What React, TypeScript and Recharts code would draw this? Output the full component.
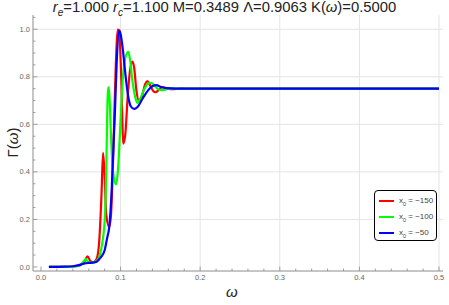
import { Line, LineChart, ReferenceLine, XAxis, YAxis } from "recharts";

// (omega, Gamma) samples
const curveM150: [number, number][] = [
  [0.01, 0], [0.03, 0], [0.045, 0.003], [0.05, 0.008], [0.055, 0.025],
  [0.0585, 0.045], [0.062, 0.025], [0.066, 0.02], [0.07, 0.035], [0.073, 0.1],
  [0.076, 0.3], [0.078, 0.48], [0.08, 0.38], [0.082, 0.22], [0.0857, 0.168],
  [0.088, 0.22], [0.091, 0.5], [0.094, 0.85], [0.0967, 1.0], [0.099, 0.95],
  [0.101, 0.78], [0.1034, 0.519], [0.106, 0.56], [0.109, 0.72], [0.112, 0.83],
  [0.115, 0.864], [0.117, 0.84], [0.12, 0.74], [0.123, 0.7], [0.127, 0.72],
  [0.131, 0.77], [0.1336, 0.782], [0.137, 0.765], [0.141, 0.74], [0.144, 0.735],
  [0.148, 0.745], [0.153, 0.757], [0.158, 0.752], [0.165, 0.748], [0.175, 0.751],
  [0.19, 0.75], [0.5, 0.75],
];

const curveM100: [number, number][] = [
  [0.01, 0], [0.035, 0], [0.045, 0.004], [0.05, 0.01], [0.054, 0.025],
  [0.0565, 0.033], [0.059, 0.022], [0.064, 0.018], [0.07, 0.025], [0.074, 0.05],
  [0.077, 0.1], [0.0805, 0.22], [0.0825, 0.5], [0.0838, 0.72], [0.0848, 0.757],
  [0.086, 0.72], [0.088, 0.55], [0.09, 0.42], [0.0942, 0.347], [0.097, 0.42],
  [0.1, 0.62], [0.103, 0.8], [0.106, 0.88], [0.1097, 0.905], [0.112, 0.87],
  [0.115, 0.78], [0.118, 0.72], [0.121, 0.69], [0.125, 0.71], [0.13, 0.75],
  [0.134, 0.77], [0.138, 0.775], [0.142, 0.765], [0.147, 0.748], [0.152, 0.744],
  [0.158, 0.748], [0.165, 0.751], [0.175, 0.75], [0.5, 0.75],
];

const curveM50: [number, number][] = [
  [0.01, 0], [0.03, 0.001], [0.04, 0.003], [0.05, 0.01], [0.055, 0.015],
  [0.06, 0.017], [0.065, 0.018], [0.07, 0.022], [0.075, 0.04], [0.08, 0.07],
  [0.083, 0.12], [0.086, 0.175], [0.0888, 0.32], [0.091, 0.5], [0.093, 0.66],
  [0.095, 0.85], [0.0984, 0.995], [0.1, 0.98], [0.103, 0.91], [0.1055, 0.828],
  [0.1097, 0.715], [0.113, 0.675], [0.117, 0.665], [0.121, 0.672], [0.128, 0.71],
  [0.135, 0.745], [0.14, 0.76], [0.145, 0.765], [0.15, 0.758], [0.158, 0.752],
  [0.17, 0.75], [0.5, 0.75],
];

const seriesNames = ["\u2212150", "\u2212100", "\u221250"];
const seriesColors = ["#ff0000", "#00ff00", "#0000ff"];

const xTicks = [
  0, 0.02, 0.04, 0.06, 0.08, 0.1, 0.12, 0.14, 0.16, 0.18, 0.2, 0.22, 0.24, 0.26,
  0.28, 0.3, 0.32, 0.34, 0.36, 0.38, 0.4, 0.42, 0.44, 0.46, 0.48, 0.5,
];
const yTicks = [
  0, 0.05, 0.1, 0.15, 0.2, 0.25, 0.3, 0.35, 0.4, 0.45, 0.5, 0.55, 0.6, 0.65,
  0.7, 0.75, 0.8, 0.85, 0.9, 0.95, 1.0, 1.05,
];
const xGrid = [0.1, 0.2, 0.3, 0.4, 0.5];
const yGrid = [0.2, 0.4, 0.6, 0.8, 1.0];

const toRows = (pts: [number, number][]) => pts.map(([w, g]) => ({ w, g }));
const curves = [curveM150, curveM100, curveM50].map(toRows);

const FRAME = "#8c8c8c";
const TICKTXT = "#666";
const FONT = "'Liberation Sans', Arial, sans-serif";

const isMajor = (v: number, step: number) =>
  Math.abs(v / step - Math.round(v / step)) < 1e-6;

function FrameTick(props: any) {
  const { x, y, payload, side, labels } = props;
  const v = payload.value as number;
  const vertical = side === "bottom" || side === "top";
  const major = isMajor(v, vertical ? 0.1 : 0.2);
  const len = major ? 4.5 : 2.5;
  let line;
  if (side === "bottom") line = <line x1={x} x2={x} y1={y} y2={y - len} />;
  else if (side === "top") line = <line x1={x} x2={x} y1={y} y2={y + len} />;
  else if (side === "left") line = <line x1={x} x2={x + len} y1={y} y2={y} />;
  else line = <line x1={x} x2={x - len} y1={y} y2={y} />;
  return (
    <g>
      <g stroke={FRAME} strokeWidth={0.8}>{line}</g>
      {labels && major && side === "bottom" && (
        <text x={x} y={y + 9} textAnchor="middle" fontSize={7.5} fill={TICKTXT} fontFamily={FONT}>
          {v.toFixed(1)}
        </text>
      )}
      {labels && major && side === "left" && (
        <text x={x - 3} y={y + 2.6} textAnchor="end" fontSize={7.5} fill={TICKTXT} fontFamily={FONT}>
          {v.toFixed(1)}
        </text>
      )}
    </g>
  );
}

function LegendBox() {
  return (
    <div
      style={{
        position: "absolute",
        left: 374,
        top: 190,
        width: 63,
        height: 51,
        border: "1.5px solid #000",
        borderRadius: 4,
        background: "#fff",
        boxSizing: "border-box",
        paddingTop: 2,
        fontFamily: FONT,
        fontSize: 8,
        color: "#444",
      }}
    >
      {seriesNames.map((n, i) => (
        <div key={n} style={{ display: "flex", alignItems: "center", height: 16 }}>
          <div style={{ width: 15, height: 2, background: seriesColors[i], marginLeft: 4, marginRight: 5 }} />
          <span style={{ whiteSpace: "nowrap", lineHeight: "10px" }}>
            x<sub style={{ fontSize: 5.5, lineHeight: 0 }}>0</sub> = {n}
          </span>
        </div>
      ))}
    </div>
  );
}

export default function App() {
  return (
    <div style={{ position: "absolute", left: 0, top: 0, width: 449, height: 305, background: "#fff" }}>
      <LineChart width={449} height={305} margin={{ top: 15, right: 6, bottom: 0, left: 0 }}>
        <XAxis
          xAxisId={0}
          dataKey="w"
          type="number"
          domain={[-0.01, 0.505]}
          allowDataOverflow
          ticks={xTicks}
          interval={0}
          height={34}
          tickSize={0}
          tickMargin={0}
          stroke={FRAME}
          tick={<FrameTick side="bottom" labels />}
          tickLine={false}
        />
        <XAxis
          xAxisId="top"
          orientation="top"
          dataKey="w"
          type="number"
          domain={[-0.01, 0.505]}
          allowDataOverflow
          ticks={xTicks}
          interval={0}
          height={0}
          tickSize={0}
          tickMargin={0}
          stroke={FRAME}
          tick={<FrameTick side="top" />}
          tickLine={false}
        />
        <YAxis
          yAxisId={0}
          dataKey="g"
          type="number"
          domain={[-0.017, 1.06]}
          allowDataOverflow
          ticks={yTicks}
          interval={0}
          width={33}
          tickSize={0}
          tickMargin={0}
          stroke={FRAME}
          tick={<FrameTick side="left" labels />}
          tickLine={false}
        />
        <YAxis
          yAxisId="right"
          orientation="right"
          dataKey="g"
          type="number"
          domain={[-0.017, 1.06]}
          allowDataOverflow
          ticks={yTicks}
          interval={0}
          width={0}
          tickSize={0}
          tickMargin={0}
          stroke={FRAME}
          tick={<FrameTick side="right" />}
          tickLine={false}
        />
        {xGrid.map((v) => (
          <ReferenceLine key={"x" + v} x={v} stroke="#e4e4e4" strokeWidth={1} />
        ))}
        {yGrid.map((v) => (
          <ReferenceLine key={"y" + v} y={v} stroke="#e4e4e4" strokeWidth={1} />
        ))}
        {curves.map((rows, i) => (
          <Line
            key={i}
            data={rows}
            dataKey="g"
            type="monotone"
            stroke={seriesColors[i]}
            strokeWidth={2.2}
            dot={false}
            isAnimationActive={false}
          />
        ))}
      </LineChart>
      <div
        style={{
          position: "absolute",
          top: -1,
          left: 0,
          width: 449,
          textAlign: "center",
          fontFamily: FONT,
          fontSize: 14.8,
          color: "#222",
          whiteSpace: "nowrap",
        }}
      >
        <i>r</i><sub style={{ fontSize: 10, lineHeight: 0 }}><i>e</i></sub>=1.000 <i>r</i>
        <sub style={{ fontSize: 10, lineHeight: 0 }}><i>c</i></sub>=1.100 M=0.3489 Λ=0.9063 K(<i>ω</i>)=0.5000
      </div>
      <div
        style={{
          position: "absolute",
          left: -6,
          top: 134,
          width: 36,
          transform: "rotate(-90deg)",
          transformOrigin: "center",
          fontFamily: FONT,
          fontSize: 15,
          color: "#222",
          textAlign: "center",
          whiteSpace: "nowrap",
        }}
      >
        Γ(<i>ω</i>)
      </div>
      <div
        style={{
          position: "absolute",
          left: 226,
          top: 283,
          fontFamily: FONT,
          fontSize: 15,
          fontStyle: "italic",
          color: "#222",
        }}
      >
        ω
      </div>
      <LegendBox />
    </div>
  );
}
